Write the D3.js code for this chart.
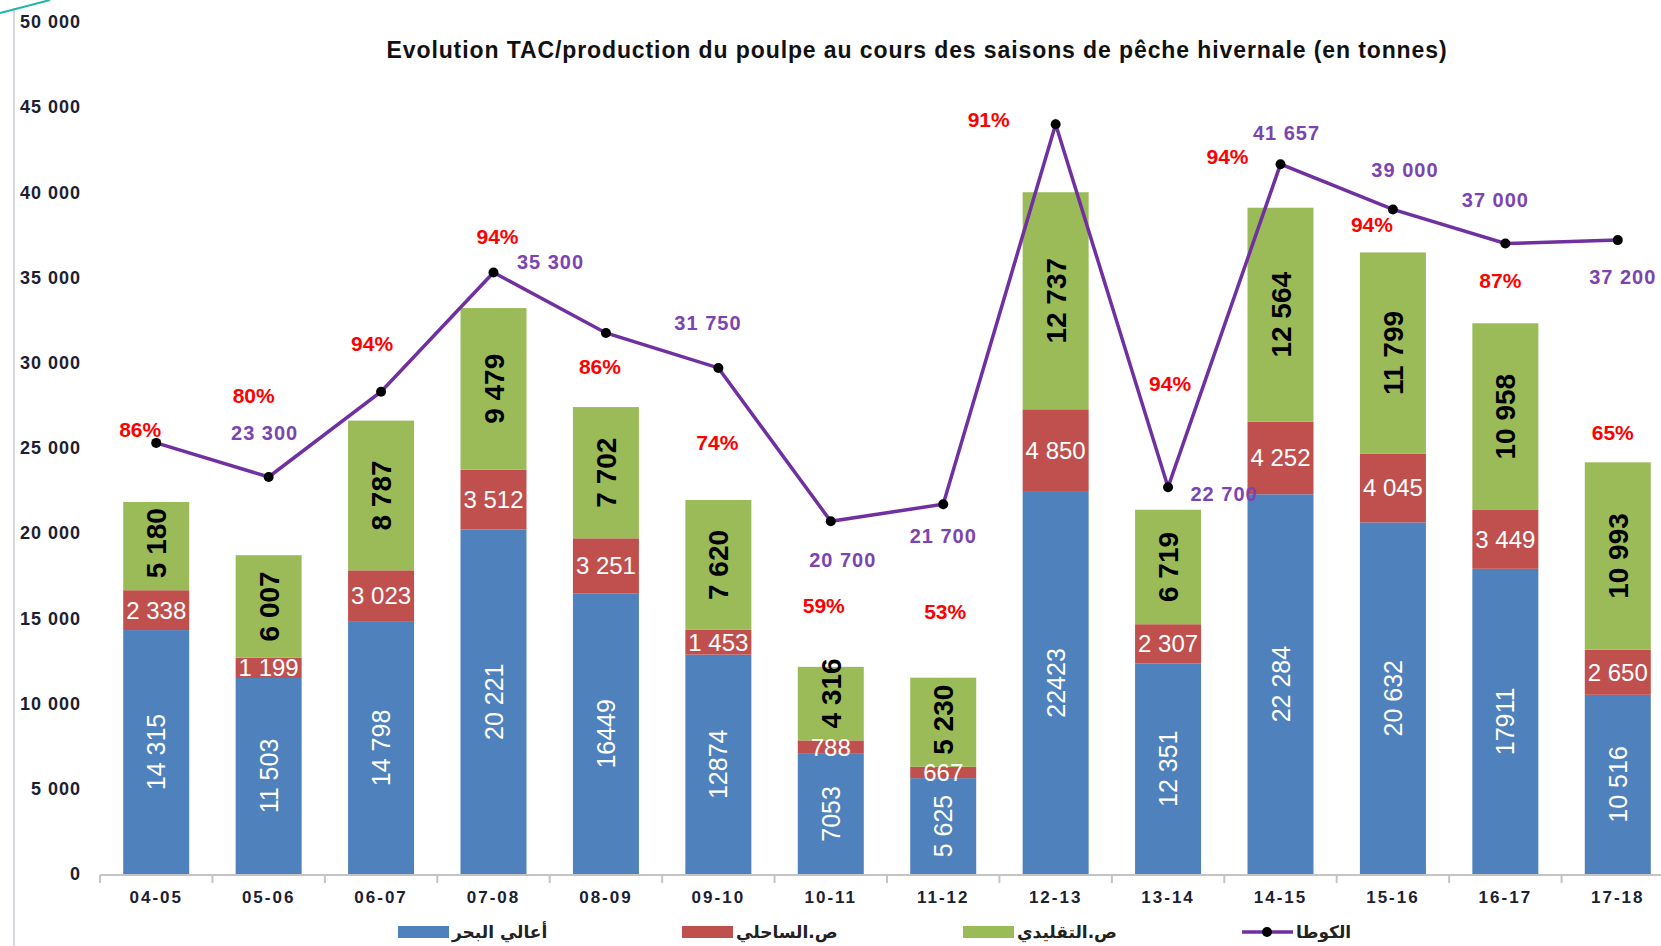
<!DOCTYPE html>
<html>
<head>
<meta charset="utf-8">
<script src="https://cdn.jsdelivr.net/npm/d3@7"></script>
<style>
  html, body { margin: 0; padding: 0; background: #fff; }
  svg { display: block; font-family: "Liberation Sans", Arial, sans-serif; }
</style>
</head>
<body>
<svg width="1661" height="946"></svg>
<script>
// seasons and tonnages
var seasons = ["04-05", "05-06", "06-07", "07-08", "08-09", "09-10", "10-11",
               "11-12", "12-13", "13-14", "14-15", "15-16", "16-17", "17-18"];
var highSea = [14315, 11503, 14798, 20221, 16449, 12874, 7053, 5625, 22423, 12351, 22284, 20632, 17911, 10516];
var coastal = [2338, 1199, 3023, 3512, 3251, 1453, 788, 667, 4850, 2307, 4252, 4045, 3449, 2650];
var artisanal = [5180, 6007, 8787, 9479, 7702, 7620, 4316, 5230, 12737, 6719, 12564, 11799, 10958, 10993];
var quota = [25300, 23300, 28300, 35300, 31750, 29700, 20700, 21700, 44000, 22700, 41657, 39000, 37000, 37200];
var quotaLabels = ["", "23 300", "", "35 300", "31 750", "", "20 700", "21 700", "", "22 700", "41 657", "39 000", "37 000", "37 200"];
var highSeaLabels = ["14 315", "11 503", "14 798", "20 221", "16449", "12874", "7053", "5 625", "22423", "12 351", "22 284", "20 632", "17911", "10 516"];
var percents = ["86%", "80%", "94%", "94%", "86%", "74%", "59%", "53%", "91%", "94%", "94%", "94%", "87%", "65%"];
var legendNames = ["أعالي البحر", "ص.الساحلي", "ص.التقليدي", "الكوطا"];
var title = "Evolution TAC/production du poulpe au cours des saisons de pêche hivernale (en tonnes)";

// label nudges relative to the line point (layout only)
var pctOffset = [[-16, -13], [-15, -81], [-9, -48], [4, -36], [-6, 34], [-1, 75], [-7, 84], [2, 107], [-67, -5], [2, -104], [-53, -8], [-21, 15], [-5, 37], [-5, 193]];
var quotaOffset = [[0, 0], [-4, -44], [0, 0], [57, -10], [102, -10], [0, 0], [12, 39], [0, 32], [0, 0], [56, 7], [6, -31], [12, -39], [-10, -44], [5, 37]];

var colors = {blue: "#4F81BD", red: "#C0504D", green: "#9BBB59", line: "#7030A0"};

var svg = d3.select("svg");

var x = d3.scaleBand().domain(seasons).range([100, 1674]).paddingInner(0.413).paddingOuter(0.2065);
var y = d3.scaleLinear().domain([0, 50000]).range([874, 22]);

var spaceFmt = function (v) { return d3.format(",")(v).replace(/,/g, " "); };

// slide decoration
svg.append("line").attr("x1", 14).attr("x2", 14).attr("y1", 8).attr("y2", 946)
    .attr("stroke", "#d6d9e0").attr("stroke-width", 2);
svg.append("line").attr("x1", 0).attr("y1", 13).attr("x2", 50).attr("y2", 0)
    .attr("stroke", "#1fb5a8").attr("stroke-width", 2);

// title
svg.append("text")
    .attr("x", 917).attr("y", 58)
    .attr("text-anchor", "middle")
    .style("font-size", "23px").style("font-weight", "bold").style("letter-spacing", "0.9px")
    .attr("fill", "#111")
    .text(title);

// y axis labels
var axisY = svg.append("g").attr("transform", "translate(81,0)")
    .call(d3.axisLeft(y).tickValues(d3.range(0, 50001, 5000)).tickSize(0).tickPadding(0).tickFormat(spaceFmt));
axisY.select(".domain").remove();
axisY.selectAll("text")
    .style("font-size", "18px").style("font-weight", "bold").style("letter-spacing", "1px")
    .attr("fill", "#1c2033").attr("font-family", "Liberation Sans, Arial, sans-serif");

// stacked bars
var rows = seasons.map(function (s, i) {
    return {season: s, i: i, a: highSea[i], b: coastal[i], c: artisanal[i]};
});
var stack = d3.stack().keys(["a", "b", "c"])(rows);
var fills = [colors.blue, colors.red, colors.green];

var layers = svg.append("g").selectAll("g").data(stack).enter().append("g")
    .attr("fill", function (d, k) { return fills[k]; });
layers.selectAll("rect").data(function (d) { return d; }).enter().append("rect")
    .attr("x", function (d) { return x(d.data.season); })
    .attr("width", x.bandwidth())
    .attr("y", function (d) { return y(d[1]); })
    .attr("height", function (d) { return y(d[0]) - y(d[1]); });

// x axis
var step = x.step();
var axisG = svg.append("g");
axisG.append("line").attr("x1", 100).attr("x2", 1674).attr("y1", 875).attr("y2", 875)
    .attr("stroke", "#c4c4c4").attr("stroke-width", 2);
axisG.selectAll(".tk").data(d3.range(seasons.length + 1)).enter().append("line")
    .attr("x1", function (i) { return 100 + i * step; })
    .attr("x2", function (i) { return 100 + i * step; })
    .attr("y1", 875).attr("y2", 883)
    .attr("stroke", "#c4c4c4").attr("stroke-width", 2);
var axisX = svg.append("g").attr("transform", "translate(0,875)")
    .call(d3.axisBottom(x).tickSize(0).tickPadding(16));
axisX.select(".domain").remove();
axisX.selectAll("text")
    .style("font-size", "17px").style("font-weight", "bold").style("letter-spacing", "2px")
    .attr("fill", "#1c2033").attr("font-family", "Liberation Sans, Arial, sans-serif");

// labels inside bars
var labels = svg.append("g");
rows.forEach(function (r) {
    var cx = x(r.season) + x.bandwidth() / 2;
    var blueMid = y(r.a / 2);
    labels.append("text")
        .attr("transform", "translate(" + (cx + 9) + "," + blueMid + ") rotate(-90)")
        .attr("text-anchor", "middle")
        .style("font-size", "25px").attr("fill", "#fff")
        .text(highSeaLabels[r.i]);
    var redMid = y(r.a + r.b / 2);
    labels.append("text")
        .attr("x", cx).attr("y", redMid).attr("dy", "0.35em")
        .attr("text-anchor", "middle")
        .style("font-size", "24px").attr("fill", "#fff")
        .text(spaceFmt(r.b));
    var greenBottom = y(r.a + r.b);
    var greenMid = y(r.a + r.b + r.c / 2);
    var gt = labels.append("text")
        .attr("text-anchor", "middle")
        .style("font-size", "28px").style("font-weight", "bold").attr("fill", "#000")
        .text(spaceFmt(r.c));
    var half = gt.node().getComputedTextLength() / 2;
    var gy = Math.min(greenMid, greenBottom - 12 - half);
    gt.attr("transform", "translate(" + (cx + 10) + "," + gy + ") rotate(-90)");
});

// quota line
var line = d3.line()
    .x(function (d, i) { return x(seasons[i]) + x.bandwidth() / 2; })
    .y(function (d) { return y(d); });
svg.append("path").datum(quota)
    .attr("d", line).attr("fill", "none")
    .attr("stroke", colors.line).attr("stroke-width", 3.5);
svg.append("g").selectAll("circle").data(quota).enter().append("circle")
    .attr("cx", function (d, i) { return x(seasons[i]) + x.bandwidth() / 2; })
    .attr("cy", function (d) { return y(d); })
    .attr("r", 5).attr("fill", "#000");

// quota values
svg.append("g").selectAll("text").data(quota).enter().append("text")
    .attr("x", function (d, i) { return x(seasons[i]) + x.bandwidth() / 2 + quotaOffset[i][0]; })
    .attr("y", function (d, i) { return y(d) + quotaOffset[i][1]; })
    .attr("dy", "0.35em").attr("text-anchor", "middle")
    .style("font-size", "20px").style("font-weight", "bold").style("letter-spacing", "1px")
    .attr("fill", "#7B44B0")
    .text(function (d, i) { return quotaLabels[i]; });

// percentage of quota
svg.append("g").selectAll("text").data(quota).enter().append("text")
    .attr("x", function (d, i) { return x(seasons[i]) + x.bandwidth() / 2 + pctOffset[i][0]; })
    .attr("y", function (d, i) { return y(d) + pctOffset[i][1]; })
    .attr("dy", "0.35em").attr("text-anchor", "middle")
    .style("font-size", "21px").style("font-weight", "bold")
    .attr("fill", "#FF0000")
    .text(function (d, i) { return percents[i]; });

// legend
var legendX = [398, 682, 963, 1242];
var legend = svg.append("g");
legendNames.forEach(function (name, k) {
    var g = legend.append("g").attr("transform", "translate(" + legendX[k] + ",926)");
    if (k < 3) {
        g.append("rect").attr("width", 51).attr("height", 12).attr("fill", fills[k]);
    } else {
        g.append("line").attr("x1", 0).attr("x2", 51).attr("y1", 6).attr("y2", 6)
            .attr("stroke", colors.line).attr("stroke-width", 3.5);
        g.append("circle").attr("cx", 25).attr("cy", 6).attr("r", 5).attr("fill", "#000");
    }
    g.append("text").attr("x", 54).attr("y", 6).attr("dy", "0.35em")
        .attr("direction", "rtl").attr("text-anchor", "end")
        .style("font-family", "DejaVu Sans, sans-serif")
        .style("font-size", "17px").style("font-weight", "bold").attr("fill", "#222")
        .text(name);
});
</script>
</body>
</html>
